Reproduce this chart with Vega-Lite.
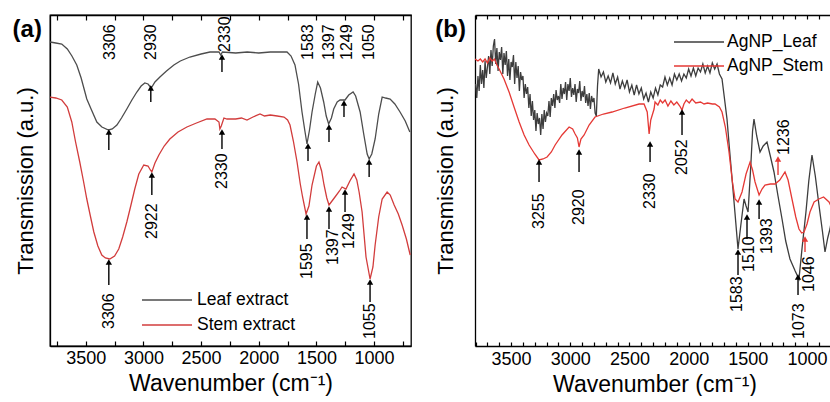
{
  "$schema": "https://vega.github.io/schema/vega-lite/v6.json",
  "padding": {"left": 11, "top": 13, "right": 0, "bottom": 0},
  "spacing": 22,
  "config": {
    "font": "Liberation Sans",
    "view": {"stroke": "black", "strokeWidth": 1.3},
    "axis": {"domainColor": "black", "domainWidth": 1.3, "tickColor": "black", "tickWidth": 1.2, "labelColor": "black", "titleColor": "black", "grid": false},
    "text": {"color": "black"}
  },
  "datasets": {
    "specA": [
      {"wn":3810,"t":304,"s":"Leaf extract"},{"wn":3760,"t":303,"s":"Leaf extract"},{"wn":3708,"t":302,"s":"Leaf extract"},{"wn":3660,"t":297,"s":"Leaf extract"},{"wn":3620,"t":290,"s":"Leaf extract"},{"wn":3578,"t":281,"s":"Leaf extract"},{"wn":3540,"t":268,"s":"Leaf extract"},{"wn":3491,"t":247,"s":"Leaf extract"},{"wn":3450,"t":236,"s":"Leaf extract"},{"wn":3404,"t":224,"s":"Leaf extract"},{"wn":3360,"t":219,"s":"Leaf extract"},{"wn":3303,"t":216,"s":"Leaf extract"},{"wn":3270,"t":217,"s":"Leaf extract"},{"wn":3230,"t":221,"s":"Leaf extract"},{"wn":3190,"t":228,"s":"Leaf extract"},{"wn":3144,"t":237,"s":"Leaf extract"},{"wn":3100,"t":246,"s":"Leaf extract"},{"wn":3057,"t":254,"s":"Leaf extract"},{"wn":3020,"t":260,"s":"Leaf extract"},{"wn":2988,"t":263,"s":"Leaf extract"},{"wn":2960,"t":262,"s":"Leaf extract"},{"wn":2940,"t":259,"s":"Leaf extract"},{"wn":2927,"t":259,"s":"Leaf extract"},{"wn":2900,"t":264,"s":"Leaf extract"},{"wn":2857,"t":269,"s":"Leaf extract"},{"wn":2800,"t":275,"s":"Leaf extract"},{"wn":2736,"t":281,"s":"Leaf extract"},{"wn":2680,"t":285,"s":"Leaf extract"},{"wn":2597,"t":289,"s":"Leaf extract"},{"wn":2500,"t":292,"s":"Leaf extract"},{"wn":2423,"t":294,"s":"Leaf extract"},{"wn":2345,"t":294,"s":"Leaf extract"},{"wn":2330,"t":291,"s":"Leaf extract"},{"wn":2315,"t":294,"s":"Leaf extract"},{"wn":2200,"t":293,"s":"Leaf extract"},{"wn":2100,"t":294,"s":"Leaf extract"},{"wn":2000,"t":293,"s":"Leaf extract"},{"wn":1900,"t":294,"s":"Leaf extract"},{"wn":1800,"t":294,"s":"Leaf extract"},{"wn":1755,"t":294,"s":"Leaf extract"},{"wn":1720,"t":290,"s":"Leaf extract"},{"wn":1686,"t":281,"s":"Leaf extract"},{"wn":1655,"t":262,"s":"Leaf extract"},{"wn":1625,"t":234,"s":"Leaf extract"},{"wn":1600,"t":215,"s":"Leaf extract"},{"wn":1582,"t":202,"s":"Leaf extract"},{"wn":1560,"t":216,"s":"Leaf extract"},{"wn":1538,"t":234,"s":"Leaf extract"},{"wn":1510,"t":252,"s":"Leaf extract"},{"wn":1489,"t":264,"s":"Leaf extract"},{"wn":1465,"t":258,"s":"Leaf extract"},{"wn":1437,"t":244,"s":"Leaf extract"},{"wn":1415,"t":230,"s":"Leaf extract"},{"wn":1394,"t":222,"s":"Leaf extract"},{"wn":1370,"t":228,"s":"Leaf extract"},{"wn":1350,"t":237,"s":"Leaf extract"},{"wn":1320,"t":244,"s":"Leaf extract"},{"wn":1295,"t":246,"s":"Leaf extract"},{"wn":1270,"t":246,"s":"Leaf extract"},{"wn":1252,"t":246,"s":"Leaf extract"},{"wn":1220,"t":251,"s":"Leaf extract"},{"wn":1182,"t":254,"s":"Leaf extract"},{"wn":1160,"t":250,"s":"Leaf extract"},{"wn":1121,"t":234,"s":"Leaf extract"},{"wn":1090,"t":212,"s":"Leaf extract"},{"wn":1060,"t":192,"s":"Leaf extract"},{"wn":1043,"t":187,"s":"Leaf extract"},{"wn":1020,"t":192,"s":"Leaf extract"},{"wn":991,"t":207,"s":"Leaf extract"},{"wn":960,"t":232,"s":"Leaf extract"},{"wn":930,"t":249,"s":"Leaf extract"},{"wn":900,"t":248,"s":"Leaf extract"},{"wn":861,"t":247,"s":"Leaf extract"},{"wn":820,"t":242,"s":"Leaf extract"},{"wn":775,"t":234,"s":"Leaf extract"},{"wn":730,"t":225,"s":"Leaf extract"},{"wn":690,"t":214,"s":"Leaf extract"},
      {"wn":3813,"t":249,"s":"Stem extract"},{"wn":3760,"t":248,"s":"Stem extract"},{"wn":3708,"t":246,"s":"Stem extract"},{"wn":3660,"t":239,"s":"Stem extract"},{"wn":3621,"t":224,"s":"Stem extract"},{"wn":3590,"t":205,"s":"Stem extract"},{"wn":3552,"t":184,"s":"Stem extract"},{"wn":3520,"t":165,"s":"Stem extract"},{"wn":3491,"t":147,"s":"Stem extract"},{"wn":3460,"t":130,"s":"Stem extract"},{"wn":3430,"t":114,"s":"Stem extract"},{"wn":3395,"t":100,"s":"Stem extract"},{"wn":3361,"t":91,"s":"Stem extract"},{"wn":3330,"t":88,"s":"Stem extract"},{"wn":3292,"t":87,"s":"Stem extract"},{"wn":3250,"t":90,"s":"Stem extract"},{"wn":3214,"t":97,"s":"Stem extract"},{"wn":3180,"t":109,"s":"Stem extract"},{"wn":3144,"t":124,"s":"Stem extract"},{"wn":3110,"t":140,"s":"Stem extract"},{"wn":3075,"t":157,"s":"Stem extract"},{"wn":3040,"t":172,"s":"Stem extract"},{"wn":2997,"t":181,"s":"Stem extract"},{"wn":2960,"t":180,"s":"Stem extract"},{"wn":2940,"t":176,"s":"Stem extract"},{"wn":2927,"t":174,"s":"Stem extract"},{"wn":2900,"t":183,"s":"Stem extract"},{"wn":2866,"t":191,"s":"Stem extract"},{"wn":2820,"t":200,"s":"Stem extract"},{"wn":2771,"t":207,"s":"Stem extract"},{"wn":2700,"t":214,"s":"Stem extract"},{"wn":2623,"t":219,"s":"Stem extract"},{"wn":2540,"t":223,"s":"Stem extract"},{"wn":2449,"t":227,"s":"Stem extract"},{"wn":2380,"t":227,"s":"Stem extract"},{"wn":2345,"t":224,"s":"Stem extract"},{"wn":2337,"t":217,"s":"Stem extract"},{"wn":2325,"t":220,"s":"Stem extract"},{"wn":2302,"t":228,"s":"Stem extract"},{"wn":2276,"t":227,"s":"Stem extract"},{"wn":2200,"t":227,"s":"Stem extract"},{"wn":2150,"t":228,"s":"Stem extract"},{"wn":2102,"t":226,"s":"Stem extract"},{"wn":2050,"t":229,"s":"Stem extract"},{"wn":1989,"t":232,"s":"Stem extract"},{"wn":1950,"t":230,"s":"Stem extract"},{"wn":1900,"t":231,"s":"Stem extract"},{"wn":1840,"t":230,"s":"Stem extract"},{"wn":1781,"t":229,"s":"Stem extract"},{"wn":1750,"t":226,"s":"Stem extract"},{"wn":1729,"t":221,"s":"Stem extract"},{"wn":1700,"t":205,"s":"Stem extract"},{"wn":1668,"t":184,"s":"Stem extract"},{"wn":1640,"t":162,"s":"Stem extract"},{"wn":1620,"t":149,"s":"Stem extract"},{"wn":1590,"t":132,"s":"Stem extract"},{"wn":1565,"t":140,"s":"Stem extract"},{"wn":1538,"t":161,"s":"Stem extract"},{"wn":1500,"t":180,"s":"Stem extract"},{"wn":1478,"t":184,"s":"Stem extract"},{"wn":1455,"t":175,"s":"Stem extract"},{"wn":1434,"t":161,"s":"Stem extract"},{"wn":1410,"t":148,"s":"Stem extract"},{"wn":1391,"t":141,"s":"Stem extract"},{"wn":1365,"t":145,"s":"Stem extract"},{"wn":1339,"t":149,"s":"Stem extract"},{"wn":1300,"t":155,"s":"Stem extract"},{"wn":1278,"t":159,"s":"Stem extract"},{"wn":1244,"t":157,"s":"Stem extract"},{"wn":1210,"t":165,"s":"Stem extract"},{"wn":1174,"t":172,"s":"Stem extract"},{"wn":1150,"t":166,"s":"Stem extract"},{"wn":1130,"t":154,"s":"Stem extract"},{"wn":1104,"t":134,"s":"Stem extract"},{"wn":1070,"t":89,"s":"Stem extract"},{"wn":1035,"t":67,"s":"Stem extract"},{"wn":1010,"t":79,"s":"Stem extract"},{"wn":991,"t":101,"s":"Stem extract"},{"wn":960,"t":129,"s":"Stem extract"},{"wn":930,"t":147,"s":"Stem extract"},{"wn":887,"t":154,"s":"Stem extract"},{"wn":860,"t":151,"s":"Stem extract"},{"wn":826,"t":141,"s":"Stem extract"},{"wn":790,"t":132,"s":"Stem extract"},{"wn":757,"t":121,"s":"Stem extract"},{"wn":720,"t":107,"s":"Stem extract"},{"wn":687,"t":91,"s":"Stem extract"}
    ],
    "labA": [
      {"wn":3292,"t":286,"label":"3306"},{"wn":2936,"t":286,"label":"2930"},{"wn":2293,"t":294,"label":"2330"},{"wn":1573,"t":286,"label":"1583"},{"wn":1391,"t":286,"label":"1397"},{"wn":1234,"t":286,"label":"1249"},{"wn":1043,"t":286,"label":"1050"},
      {"wn":2319,"t":157,"label":"2330"},{"wn":2927,"t":107,"label":"2922"},{"wn":3300,"t":17,"label":"3306"},{"wn":1582,"t":67,"label":"1595"},{"wn":1356,"t":81,"label":"1397"},{"wn":1220,"t":97,"label":"1249"},{"wn":1035,"t":7,"label":"1055"}
    ],
    "arrA": [
      {"wn":3300,"t0":196,"t1":214,"c":"black"},{"wn":2936,"t0":244,"t1":258,"c":"black"},{"wn":2319,"t0":274,"t1":289,"c":"black"},{"wn":1573,"t0":185,"t1":200,"c":"black"},{"wn":1391,"t0":204,"t1":219,"c":"black"},{"wn":1261,"t0":229,"t1":243,"c":"black"},{"wn":1043,"t0":169,"t1":184,"c":"black"},
      {"wn":2319,"t0":197,"t1":214,"c":"black"},{"wn":2927,"t0":151,"t1":171,"c":"black"},{"wn":3300,"t0":61,"t1":84,"c":"black"},{"wn":1582,"t0":107,"t1":129,"c":"black"},{"wn":1391,"t0":117,"t1":137,"c":"black"},{"wn":1252,"t0":134,"t1":154,"c":"black"},{"wn":1035,"t0":44,"t1":64,"c":"black"}
    ],
    "specB": [
      {"wn":3800,"t":262,"s":"AgNP_Leaf"},{"wn":3790,"t":248,"s":"AgNP_Leaf"},{"wn":3780,"t":270,"s":"AgNP_Leaf"},{"wn":3770,"t":255,"s":"AgNP_Leaf"},{"wn":3760,"t":281,"s":"AgNP_Leaf"},{"wn":3750,"t":262,"s":"AgNP_Leaf"},{"wn":3740,"t":276,"s":"AgNP_Leaf"},{"wn":3730,"t":258,"s":"AgNP_Leaf"},{"wn":3720,"t":285,"s":"AgNP_Leaf"},{"wn":3710,"t":268,"s":"AgNP_Leaf"},{"wn":3700,"t":279,"s":"AgNP_Leaf"},{"wn":3690,"t":290,"s":"AgNP_Leaf"},{"wn":3680,"t":272,"s":"AgNP_Leaf"},{"wn":3670,"t":296,"s":"AgNP_Leaf"},{"wn":3660,"t":280,"s":"AgNP_Leaf"},{"wn":3650,"t":300,"s":"AgNP_Leaf"},{"wn":3640,"t":307,"s":"AgNP_Leaf"},{"wn":3630,"t":282,"s":"AgNP_Leaf"},{"wn":3620,"t":298,"s":"AgNP_Leaf"},{"wn":3610,"t":275,"s":"AgNP_Leaf"},{"wn":3600,"t":294,"s":"AgNP_Leaf"},{"wn":3590,"t":286,"s":"AgNP_Leaf"},{"wn":3580,"t":299,"s":"AgNP_Leaf"},{"wn":3570,"t":272,"s":"AgNP_Leaf"},{"wn":3560,"t":293,"s":"AgNP_Leaf"},{"wn":3550,"t":281,"s":"AgNP_Leaf"},{"wn":3540,"t":295,"s":"AgNP_Leaf"},{"wn":3530,"t":270,"s":"AgNP_Leaf"},{"wn":3520,"t":287,"s":"AgNP_Leaf"},{"wn":3510,"t":266,"s":"AgNP_Leaf"},{"wn":3500,"t":284,"s":"AgNP_Leaf"},{"wn":3490,"t":279,"s":"AgNP_Leaf"},{"wn":3480,"t":291,"s":"AgNP_Leaf"},{"wn":3470,"t":262,"s":"AgNP_Leaf"},{"wn":3460,"t":284,"s":"AgNP_Leaf"},{"wn":3450,"t":268,"s":"AgNP_Leaf"},{"wn":3440,"t":280,"s":"AgNP_Leaf"},{"wn":3430,"t":255,"s":"AgNP_Leaf"},{"wn":3420,"t":274,"s":"AgNP_Leaf"},{"wn":3410,"t":266,"s":"AgNP_Leaf"},{"wn":3400,"t":270,"s":"AgNP_Leaf"},{"wn":3390,"t":248,"s":"AgNP_Leaf"},{"wn":3380,"t":262,"s":"AgNP_Leaf"},{"wn":3370,"t":252,"s":"AgNP_Leaf"},{"wn":3360,"t":259,"s":"AgNP_Leaf"},{"wn":3350,"t":238,"s":"AgNP_Leaf"},{"wn":3340,"t":252,"s":"AgNP_Leaf"},{"wn":3330,"t":230,"s":"AgNP_Leaf"},{"wn":3320,"t":245,"s":"AgNP_Leaf"},{"wn":3310,"t":226,"s":"AgNP_Leaf"},{"wn":3300,"t":236,"s":"AgNP_Leaf"},{"wn":3290,"t":215,"s":"AgNP_Leaf"},{"wn":3280,"t":233,"s":"AgNP_Leaf"},{"wn":3270,"t":222,"s":"AgNP_Leaf"},{"wn":3260,"t":228,"s":"AgNP_Leaf"},{"wn":3250,"t":211,"s":"AgNP_Leaf"},{"wn":3240,"t":232,"s":"AgNP_Leaf"},{"wn":3230,"t":217,"s":"AgNP_Leaf"},{"wn":3220,"t":236,"s":"AgNP_Leaf"},{"wn":3210,"t":224,"s":"AgNP_Leaf"},{"wn":3200,"t":233,"s":"AgNP_Leaf"},{"wn":3190,"t":230,"s":"AgNP_Leaf"},{"wn":3180,"t":245,"s":"AgNP_Leaf"},{"wn":3170,"t":229,"s":"AgNP_Leaf"},{"wn":3160,"t":248,"s":"AgNP_Leaf"},{"wn":3150,"t":240,"s":"AgNP_Leaf"},{"wn":3140,"t":252,"s":"AgNP_Leaf"},{"wn":3130,"t":238,"s":"AgNP_Leaf"},{"wn":3120,"t":256,"s":"AgNP_Leaf"},{"wn":3110,"t":246,"s":"AgNP_Leaf"},{"wn":3100,"t":250,"s":"AgNP_Leaf"},{"wn":3090,"t":243,"s":"AgNP_Leaf"},{"wn":3080,"t":262,"s":"AgNP_Leaf"},{"wn":3070,"t":247,"s":"AgNP_Leaf"},{"wn":3060,"t":258,"s":"AgNP_Leaf"},{"wn":3050,"t":252,"s":"AgNP_Leaf"},{"wn":3040,"t":264,"s":"AgNP_Leaf"},{"wn":3030,"t":246,"s":"AgNP_Leaf"},{"wn":3020,"t":262,"s":"AgNP_Leaf"},{"wn":3010,"t":255,"s":"AgNP_Leaf"},{"wn":3000,"t":268,"s":"AgNP_Leaf"},{"wn":2990,"t":249,"s":"AgNP_Leaf"},{"wn":2980,"t":258,"s":"AgNP_Leaf"},{"wn":2970,"t":251,"s":"AgNP_Leaf"},{"wn":2960,"t":262,"s":"AgNP_Leaf"},{"wn":2950,"t":244,"s":"AgNP_Leaf"},{"wn":2940,"t":257,"s":"AgNP_Leaf"},{"wn":2930,"t":253,"s":"AgNP_Leaf"},{"wn":2920,"t":265,"s":"AgNP_Leaf"},{"wn":2910,"t":245,"s":"AgNP_Leaf"},{"wn":2900,"t":255,"s":"AgNP_Leaf"},{"wn":2890,"t":249,"s":"AgNP_Leaf"},{"wn":2880,"t":260,"s":"AgNP_Leaf"},{"wn":2870,"t":243,"s":"AgNP_Leaf"},{"wn":2860,"t":252,"s":"AgNP_Leaf"},{"wn":2850,"t":240,"s":"AgNP_Leaf"},{"wn":2840,"t":253,"s":"AgNP_Leaf"},{"wn":2830,"t":237,"s":"AgNP_Leaf"},{"wn":2820,"t":250,"s":"AgNP_Leaf"},{"wn":2810,"t":244,"s":"AgNP_Leaf"},{"wn":2800,"t":248,"s":"AgNP_Leaf"},{"wn":2790,"t":233,"s":"AgNP_Leaf"},{"wn":2780,"t":230,"s":"AgNP_Leaf"},{"wn":2770,"t":260,"s":"AgNP_Leaf"},{"wn":2760,"t":277,"s":"AgNP_Leaf"},{"wn":2740,"t":269,"s":"AgNP_Leaf"},{"wn":2720,"t":274,"s":"AgNP_Leaf"},{"wn":2700,"t":264,"s":"AgNP_Leaf"},{"wn":2680,"t":270,"s":"AgNP_Leaf"},{"wn":2660,"t":263,"s":"AgNP_Leaf"},{"wn":2640,"t":273,"s":"AgNP_Leaf"},{"wn":2620,"t":262,"s":"AgNP_Leaf"},{"wn":2600,"t":269,"s":"AgNP_Leaf"},{"wn":2580,"t":257,"s":"AgNP_Leaf"},{"wn":2560,"t":265,"s":"AgNP_Leaf"},{"wn":2540,"t":258,"s":"AgNP_Leaf"},{"wn":2520,"t":266,"s":"AgNP_Leaf"},{"wn":2500,"t":254,"s":"AgNP_Leaf"},{"wn":2480,"t":261,"s":"AgNP_Leaf"},{"wn":2460,"t":251,"s":"AgNP_Leaf"},{"wn":2440,"t":261,"s":"AgNP_Leaf"},{"wn":2420,"t":252,"s":"AgNP_Leaf"},{"wn":2400,"t":258,"s":"AgNP_Leaf"},{"wn":2380,"t":247,"s":"AgNP_Leaf"},{"wn":2360,"t":253,"s":"AgNP_Leaf"},{"wn":2340,"t":244,"s":"AgNP_Leaf"},{"wn":2320,"t":254,"s":"AgNP_Leaf"},{"wn":2300,"t":248,"s":"AgNP_Leaf"},{"wn":2280,"t":258,"s":"AgNP_Leaf"},{"wn":2260,"t":251,"s":"AgNP_Leaf"},{"wn":2240,"t":261,"s":"AgNP_Leaf"},{"wn":2220,"t":259,"s":"AgNP_Leaf"},{"wn":2200,"t":269,"s":"AgNP_Leaf"},{"wn":2180,"t":261,"s":"AgNP_Leaf"},{"wn":2160,"t":268,"s":"AgNP_Leaf"},{"wn":2140,"t":261,"s":"AgNP_Leaf"},{"wn":2120,"t":272,"s":"AgNP_Leaf"},{"wn":2100,"t":266,"s":"AgNP_Leaf"},{"wn":2080,"t":272,"s":"AgNP_Leaf"},{"wn":2060,"t":265,"s":"AgNP_Leaf"},{"wn":2040,"t":272,"s":"AgNP_Leaf"},{"wn":2020,"t":268,"s":"AgNP_Leaf"},{"wn":2000,"t":277,"s":"AgNP_Leaf"},{"wn":1980,"t":270,"s":"AgNP_Leaf"},{"wn":1960,"t":278,"s":"AgNP_Leaf"},{"wn":1940,"t":270,"s":"AgNP_Leaf"},{"wn":1920,"t":278,"s":"AgNP_Leaf"},{"wn":1900,"t":274,"s":"AgNP_Leaf"},{"wn":1880,"t":282,"s":"AgNP_Leaf"},{"wn":1860,"t":273,"s":"AgNP_Leaf"},{"wn":1840,"t":280,"s":"AgNP_Leaf"},{"wn":1820,"t":273,"s":"AgNP_Leaf"},{"wn":1800,"t":283,"s":"AgNP_Leaf"},{"wn":1780,"t":277,"s":"AgNP_Leaf"},{"wn":1760,"t":282,"s":"AgNP_Leaf"},{"wn":1740,"t":272,"s":"AgNP_Leaf"},{"wn":1718,"t":267,"s":"AgNP_Leaf"},{"wn":1700,"t":250,"s":"AgNP_Leaf"},{"wn":1676,"t":227,"s":"AgNP_Leaf"},{"wn":1655,"t":197,"s":"AgNP_Leaf"},{"wn":1633,"t":167,"s":"AgNP_Leaf"},{"wn":1610,"t":135,"s":"AgNP_Leaf"},{"wn":1583,"t":97,"s":"AgNP_Leaf"},{"wn":1560,"t":120,"s":"AgNP_Leaf"},{"wn":1532,"t":147,"s":"AgNP_Leaf"},{"wn":1515,"t":140,"s":"AgNP_Leaf"},{"wn":1498,"t":134,"s":"AgNP_Leaf"},{"wn":1475,"t":180,"s":"AgNP_Leaf"},{"wn":1460,"t":215,"s":"AgNP_Leaf"},{"wn":1448,"t":227,"s":"AgNP_Leaf"},{"wn":1425,"t":210,"s":"AgNP_Leaf"},{"wn":1397,"t":194,"s":"AgNP_Leaf"},{"wn":1370,"t":200,"s":"AgNP_Leaf"},{"wn":1338,"t":204,"s":"AgNP_Leaf"},{"wn":1310,"t":190,"s":"AgNP_Leaf"},{"wn":1279,"t":174,"s":"AgNP_Leaf"},{"wn":1245,"t":150,"s":"AgNP_Leaf"},{"wn":1211,"t":127,"s":"AgNP_Leaf"},{"wn":1180,"t":105,"s":"AgNP_Leaf"},{"wn":1144,"t":87,"s":"AgNP_Leaf"},{"wn":1100,"t":75,"s":"AgNP_Leaf"},{"wn":1068,"t":67,"s":"AgNP_Leaf"},{"wn":1040,"t":100,"s":"AgNP_Leaf"},{"wn":1009,"t":134,"s":"AgNP_Leaf"},{"wn":985,"t":165,"s":"AgNP_Leaf"},{"wn":958,"t":191,"s":"AgNP_Leaf"},{"wn":930,"t":170,"s":"AgNP_Leaf"},{"wn":899,"t":141,"s":"AgNP_Leaf"},{"wn":870,"t":115,"s":"AgNP_Leaf"},{"wn":848,"t":94,"s":"AgNP_Leaf"},{"wn":825,"t":108,"s":"AgNP_Leaf"},{"wn":806,"t":117,"s":"AgNP_Leaf"},{"wn":790,"t":128,"s":"AgNP_Leaf"},{"wn":772,"t":134,"s":"AgNP_Leaf"},
      {"wn":3804,"t":287,"s":"AgNP_Stem"},{"wn":3780,"t":285,"s":"AgNP_Stem"},{"wn":3760,"t":287,"s":"AgNP_Stem"},{"wn":3740,"t":284,"s":"AgNP_Stem"},{"wn":3720,"t":287,"s":"AgNP_Stem"},{"wn":3700,"t":283,"s":"AgNP_Stem"},{"wn":3680,"t":288,"s":"AgNP_Stem"},{"wn":3660,"t":285,"s":"AgNP_Stem"},{"wn":3640,"t":287,"s":"AgNP_Stem"},{"wn":3620,"t":281,"s":"AgNP_Stem"},{"wn":3601,"t":277,"s":"AgNP_Stem"},{"wn":3560,"t":267,"s":"AgNP_Stem"},{"wn":3517,"t":254,"s":"AgNP_Stem"},{"wn":3475,"t":239,"s":"AgNP_Stem"},{"wn":3432,"t":224,"s":"AgNP_Stem"},{"wn":3390,"t":211,"s":"AgNP_Stem"},{"wn":3348,"t":201,"s":"AgNP_Stem"},{"wn":3300,"t":192,"s":"AgNP_Stem"},{"wn":3264,"t":186,"s":"AgNP_Stem"},{"wn":3230,"t":187,"s":"AgNP_Stem"},{"wn":3196,"t":189,"s":"AgNP_Stem"},{"wn":3160,"t":194,"s":"AgNP_Stem"},{"wn":3128,"t":201,"s":"AgNP_Stem"},{"wn":3070,"t":211,"s":"AgNP_Stem"},{"wn":3010,"t":219,"s":"AgNP_Stem"},{"wn":2980,"t":217,"s":"AgNP_Stem"},{"wn":2959,"t":212,"s":"AgNP_Stem"},{"wn":2940,"t":208,"s":"AgNP_Stem"},{"wn":2926,"t":199,"s":"AgNP_Stem"},{"wn":2910,"t":207,"s":"AgNP_Stem"},{"wn":2883,"t":211,"s":"AgNP_Stem"},{"wn":2841,"t":221,"s":"AgNP_Stem"},{"wn":2791,"t":229,"s":"AgNP_Stem"},{"wn":2720,"t":232,"s":"AgNP_Stem"},{"wn":2647,"t":234,"s":"AgNP_Stem"},{"wn":2540,"t":238,"s":"AgNP_Stem"},{"wn":2419,"t":242,"s":"AgNP_Stem"},{"wn":2377,"t":242,"s":"AgNP_Stem"},{"wn":2350,"t":234,"s":"AgNP_Stem"},{"wn":2334,"t":212,"s":"AgNP_Stem"},{"wn":2320,"t":226,"s":"AgNP_Stem"},{"wn":2292,"t":237,"s":"AgNP_Stem"},{"wn":2284,"t":244,"s":"AgNP_Stem"},{"wn":2260,"t":241,"s":"AgNP_Stem"},{"wn":2240,"t":246,"s":"AgNP_Stem"},{"wn":2220,"t":243,"s":"AgNP_Stem"},{"wn":2199,"t":246,"s":"AgNP_Stem"},{"wn":2175,"t":240,"s":"AgNP_Stem"},{"wn":2150,"t":245,"s":"AgNP_Stem"},{"wn":2125,"t":241,"s":"AgNP_Stem"},{"wn":2100,"t":244,"s":"AgNP_Stem"},{"wn":2075,"t":240,"s":"AgNP_Stem"},{"wn":2056,"t":236,"s":"AgNP_Stem"},{"wn":2040,"t":242,"s":"AgNP_Stem"},{"wn":2020,"t":246,"s":"AgNP_Stem"},{"wn":1995,"t":243,"s":"AgNP_Stem"},{"wn":1971,"t":247,"s":"AgNP_Stem"},{"wn":1940,"t":243,"s":"AgNP_Stem"},{"wn":1900,"t":244,"s":"AgNP_Stem"},{"wn":1870,"t":242,"s":"AgNP_Stem"},{"wn":1840,"t":243,"s":"AgNP_Stem"},{"wn":1800,"t":242,"s":"AgNP_Stem"},{"wn":1777,"t":242,"s":"AgNP_Stem"},{"wn":1740,"t":239,"s":"AgNP_Stem"},{"wn":1718,"t":234,"s":"AgNP_Stem"},{"wn":1690,"t":219,"s":"AgNP_Stem"},{"wn":1659,"t":194,"s":"AgNP_Stem"},{"wn":1630,"t":164,"s":"AgNP_Stem"},{"wn":1608,"t":147,"s":"AgNP_Stem"},{"wn":1583,"t":144,"s":"AgNP_Stem"},{"wn":1549,"t":154,"s":"AgNP_Stem"},{"wn":1515,"t":172,"s":"AgNP_Stem"},{"wn":1481,"t":184,"s":"AgNP_Stem"},{"wn":1460,"t":176,"s":"AgNP_Stem"},{"wn":1439,"t":164,"s":"AgNP_Stem"},{"wn":1405,"t":151,"s":"AgNP_Stem"},{"wn":1380,"t":157,"s":"AgNP_Stem"},{"wn":1355,"t":161,"s":"AgNP_Stem"},{"wn":1310,"t":162,"s":"AgNP_Stem"},{"wn":1270,"t":162,"s":"AgNP_Stem"},{"wn":1230,"t":166,"s":"AgNP_Stem"},{"wn":1186,"t":174,"s":"AgNP_Stem"},{"wn":1160,"t":166,"s":"AgNP_Stem"},{"wn":1127,"t":147,"s":"AgNP_Stem"},{"wn":1095,"t":129,"s":"AgNP_Stem"},{"wn":1068,"t":117,"s":"AgNP_Stem"},{"wn":1045,"t":113,"s":"AgNP_Stem"},{"wn":1025,"t":114,"s":"AgNP_Stem"},{"wn":1000,"t":122,"s":"AgNP_Stem"},{"wn":975,"t":134,"s":"AgNP_Stem"},{"wn":940,"t":144,"s":"AgNP_Stem"},{"wn":899,"t":147,"s":"AgNP_Stem"},{"wn":860,"t":149,"s":"AgNP_Stem"},{"wn":814,"t":144,"s":"AgNP_Stem"},{"wn":772,"t":134,"s":"AgNP_Stem"}
    ],
    "labB": [
      {"wn":3264,"t":117,"label":"3255"},{"wn":2926,"t":121,"label":"2920"},{"wn":2326,"t":137,"label":"2330"},{"wn":2056,"t":171,"label":"2052"},{"wn":1194,"t":191,"label":"1236"},{"wn":1591,"t":34,"label":"1583"},{"wn":1490,"t":74,"label":"1510"},{"wn":1338,"t":92,"label":"1393"},{"wn":1068,"t":7,"label":"1073"},{"wn":983,"t":54,"label":"1046"}
    ],
    "arrB": [
      {"wn":3264,"t0":164,"t1":184,"c":"black"},{"wn":2926,"t0":174,"t1":194,"c":"black"},{"wn":2326,"t0":184,"t1":202,"c":"black"},{"wn":2056,"t0":211,"t1":234,"c":"black"},{"wn":1245,"t0":171,"t1":187,"c":"#e53935"},{"wn":1583,"t0":71,"t1":94,"c":"black"},{"wn":1507,"t0":107,"t1":129,"c":"black"},{"wn":1405,"t0":127,"t1":144,"c":"black"},{"wn":1076,"t0":51,"t1":69,"c":"black"},{"wn":1017,"t0":94,"t1":107,"c":"#e53935"}
    ],
    "panelA": [{"panel": "(a)"}],
    "panelB": [{"panel": "(b)"}]
  },
  "resolve": {"scale": {"x": "independent", "y": "independent", "color": "independent"}, "legend": {"color": "independent"}},
  "hconcat": [
    {
      "width": 361,
      "height": 331,
      "resolve": {"axis": {"x": "independent"}},
      "layer": [
        {
          "data": {"name": "specA"},
          "mark": {"type": "line", "clip": true, "strokeWidth": 1.3},
          "encoding": {
            "x": {"field": "wn", "type": "quantitative", "scale": {"domain": [680, 3810], "reverse": true, "nice": false, "zero": false},
              "axis": {"orient": "bottom", "values": [750,1000,1250,1500,1750,2000,2250,2500,2750,3000,3250,3500,3750], "format": "d", "labelExpr": "datum.value % 500 === 0 ? datum.label : ''", "labelOverlap": false, "labelFlush": false, "tickSize": -5, "labelPadding": 8, "labelFontSize": 18, "title": "Wavenumber (cm⁻¹)", "titleFontSize": 23, "titleFontWeight": "normal", "titlePadding": 5}},
            "y": {"field": "t", "type": "quantitative", "scale": {"domain": [0, 331], "nice": false, "zero": false},
              "axis": {"title": "Transmission (a.u.)", "labels": false, "ticks": false, "titlePadding": 13, "titleFontSize": 22, "titleFontWeight": "normal"}},
            "color": {"field": "s", "type": "nominal", "scale": {"domain": ["Leaf extract", "Stem extract"], "range": ["#4d4d4d", "#d23c3c"]},
              "legend": {"orient": "none", "legendX": 106, "legendY": 274, "title": null, "symbolType": "M-2.5,0H2.5", "symbolSize": 400, "symbolStrokeWidth": 1.5, "labelFontSize": 17.5, "labelOffset": 19, "rowPadding": 5, "padding": 0, "labelColor": "black"}}
          }
        },
        {
          "data": {"name": "labA"},
          "mark": {"type": "text", "angle": 270, "align": "left", "baseline": "middle", "fontSize": 16},
          "encoding": {
            "x": {"field": "wn", "type": "quantitative", "axis": {"orient": "top", "values": [750,1000,1250,1500,1750,2000,2250,2500,2750,3000,3250,3500,3750], "labels": false, "tickSize": -5, "title": null}},
            "y": {"field": "t", "type": "quantitative", "axis": {"title": "Transmission (a.u.)"}},
            "text": {"field": "label"}
          }
        },
        {
          "data": {"name": "arrA"},
          "mark": {"type": "rule", "strokeWidth": 1.4},
          "encoding": {
            "x": {"field": "wn", "type": "quantitative", "axis": null},
            "y": {"field": "t0", "type": "quantitative", "axis": {"title": "Transmission (a.u.)"}},
            "y2": {"field": "t1"},
            "stroke": {"field": "c", "type": "nominal", "scale": null}
          }
        },
        {
          "data": {"name": "arrA"},
          "mark": {"type": "point", "shape": "triangle-up", "filled": true, "size": 40, "opacity": 1},
          "encoding": {
            "x": {"field": "wn", "type": "quantitative", "axis": null},
            "y": {"field": "t1", "type": "quantitative", "axis": {"title": "Transmission (a.u.)"}},
            "fill": {"field": "c", "type": "nominal", "scale": null}
          }
        },
        {
          "data": {"name": "panelA"},
          "mark": {"type": "text", "align": "right", "baseline": "alphabetic", "fontSize": 24, "fontWeight": "bold"},
          "encoding": {
            "x": {"datum": 3880, "type": "quantitative", "axis": null},
            "y": {"datum": 309, "type": "quantitative", "axis": {"title": "Transmission (a.u.)"}},
            "text": {"field": "panel"}
          }
        }
      ]
    },
    {
      "width": 359,
      "height": 331,
      "view": {"stroke": null},
      "resolve": {"axis": {"x": "independent"}},
      "layer": [
        {
          "data": {"name": "specB"},
          "mark": {"type": "line", "clip": true, "strokeWidth": 1.3},
          "encoding": {
            "x": {"field": "wn", "type": "quantitative", "scale": {"domain": [772, 3805], "reverse": true, "nice": false, "zero": false},
              "axis": {"orient": "bottom", "values": [800,900,1000,1100,1200,1300,1400,1500,1600,1700,1800,1900,2000,2100,2200,2300,2400,2500,2600,2700,2800,2900,3000,3100,3200,3300,3400,3500,3600,3700,3800], "format": "d", "labelExpr": "datum.value % 500 === 0 ? datum.label : ''", "labelOverlap": false, "labelFlush": false, "tickSize": -4, "labelPadding": 8, "labelFontSize": 18, "title": "Wavenumber (cm⁻¹)", "titleFontSize": 23, "titleFontWeight": "normal", "titlePadding": 5}},
            "y": {"field": "t", "type": "quantitative", "scale": {"domain": [0, 331], "nice": false, "zero": false},
              "axis": {"title": "Transmission (a.u.)", "labels": false, "ticks": false, "titlePadding": 18, "titleFontSize": 22, "titleFontWeight": "normal"}},
            "color": {"field": "s", "type": "nominal", "scale": {"domain": ["AgNP_Leaf", "AgNP_Stem"], "range": ["#3d3d3d", "#e53935"]},
              "legend": {"orient": "none", "legendX": 213, "legendY": 16, "title": null, "symbolType": "M-2.5,0H2.5", "symbolSize": 400, "symbolStrokeWidth": 1.5, "labelFontSize": 17.5, "labelOffset": 17, "rowPadding": 4, "padding": 0, "labelColor": "black"}}
          }
        },
        {
          "data": {"name": "labB"},
          "mark": {"type": "text", "angle": 270, "align": "left", "baseline": "middle", "fontSize": 16},
          "encoding": {
            "x": {"field": "wn", "type": "quantitative", "axis": {"orient": "top", "values": [800,900,1000,1100,1200,1300,1400,1500,1600,1700,1800,1900,2000,2100,2200,2300,2400,2500,2600,2700,2800,2900,3000,3100,3200,3300,3400,3500,3600,3700,3800], "labels": false, "tickSize": -4, "title": null}},
            "y": {"field": "t", "type": "quantitative", "axis": {"title": "Transmission (a.u.)"}},
            "text": {"field": "label"}
          }
        },
        {
          "data": {"name": "arrB"},
          "mark": {"type": "rule", "strokeWidth": 1.4},
          "encoding": {
            "x": {"field": "wn", "type": "quantitative", "axis": null},
            "y": {"field": "t0", "type": "quantitative", "axis": {"title": "Transmission (a.u.)"}},
            "y2": {"field": "t1"},
            "stroke": {"field": "c", "type": "nominal", "scale": null}
          }
        },
        {
          "data": {"name": "arrB"},
          "mark": {"type": "point", "shape": "triangle-up", "filled": true, "size": 40, "opacity": 1},
          "encoding": {
            "x": {"field": "wn", "type": "quantitative", "axis": null},
            "y": {"field": "t1", "type": "quantitative", "axis": {"title": "Transmission (a.u.)"}},
            "fill": {"field": "c", "type": "nominal", "scale": null}
          }
        },
        {
          "data": {"name": "panelB"},
          "mark": {"type": "text", "align": "right", "baseline": "alphabetic", "fontSize": 24, "fontWeight": "bold"},
          "encoding": {
            "x": {"datum": 3881, "type": "quantitative", "axis": null},
            "y": {"datum": 309, "type": "quantitative", "axis": {"title": "Transmission (a.u.)"}},
            "text": {"field": "panel"}
          }
        }
      ]
    }
  ]
}
